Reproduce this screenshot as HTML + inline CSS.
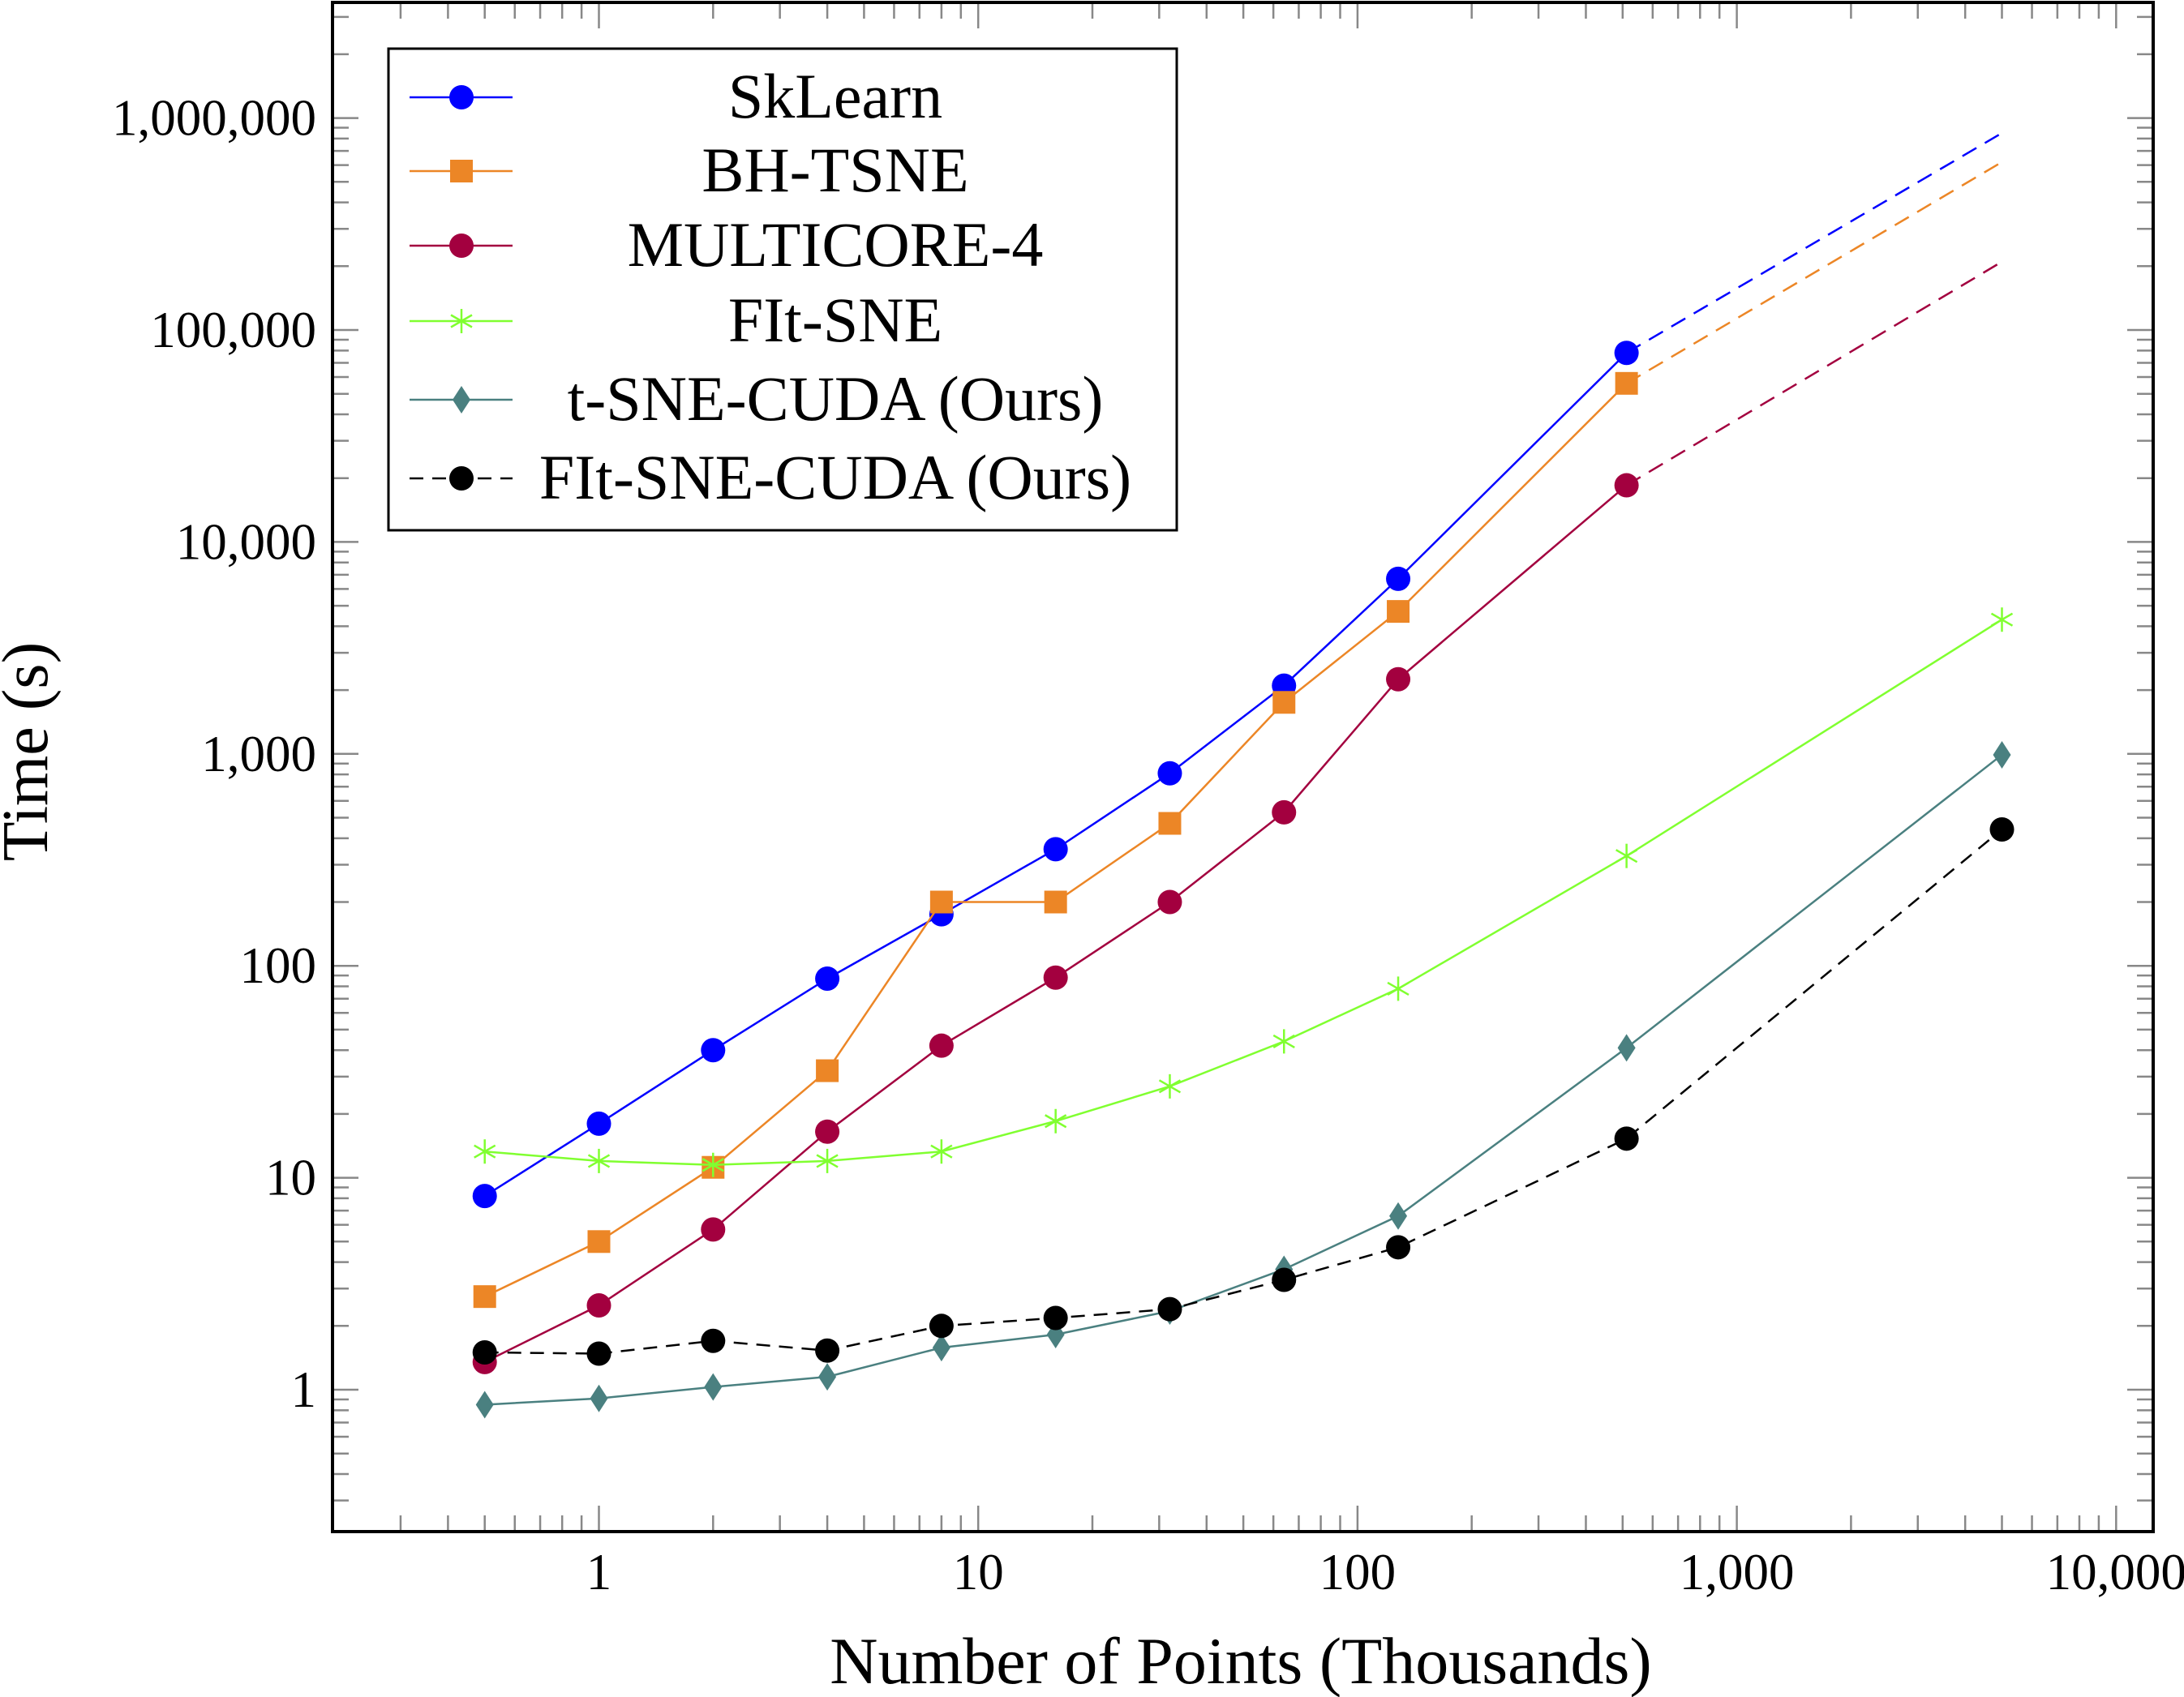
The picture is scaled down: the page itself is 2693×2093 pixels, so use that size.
<!DOCTYPE html>
<html><head><meta charset="utf-8"><style>
html,body{margin:0;padding:0;background:#fff;}
svg{display:block;font-family:"Liberation Serif",serif;}
</style></head><body>
<svg id="chart" width="2693" height="2093" viewBox="0 0 2693 2093" xmlns="http://www.w3.org/2000/svg"></svg>
<script>
const xPoints = [0.5, 1, 2, 4, 8, 16, 32, 64, 128, 512];
const xExt = 5000;
const sklearn = [8.2, 18, 40, 87, 175, 355, 810, 2100, 6700, 78000];
const sklearnExt = 850000;
const bhtsne = [2.75, 5, 11.2, 32, 200, 200, 470, 1750, 4700, 56000];
const bhtsneExt = 620000;
const multicore = [1.35, 2.5, 5.7, 16.5, 42, 88, 200, 530, 2250, 18500];
const multicoreExt = 210000;
const fitsne = [13.3, 12, 11.5, 12, 13.3, 18.5, 27, 44, 78, 330, 4300];
const tsnecuda = [0.85, 0.91, 1.03, 1.15, 1.58, 1.82, 2.35, 3.7, 6.6, 41, 990];
const fitsnecuda = [1.5, 1.48, 1.7, 1.53, 2.0, 2.18, 2.4, 3.3, 4.7, 15.3, 440];
const xTickValues = [1, 10, 100, 1000, 10000];
const xTickLabels = ["1", "10", "100", "1,000", "10,000"];
const yTickValues = [1, 10, 100, 1000, 10000, 100000, 1000000];
const yTickLabels = ["1", "10", "100", "1,000", "10,000", "100,000", "1,000,000"];
const legendLabels = ["SkLearn", "BH-TSNE", "MULTICORE-4", "FIt-SNE", "t-SNE-CUDA (Ours)", "FIt-SNE-CUDA (Ours)"];

const svg = document.getElementById('chart');
const NS = 'http://www.w3.org/2000/svg';
const L = 410, R = 2655, T = 3, B = 1889;
const X1 = 738.5, XD = 467.7, Y1 = 1714, YD = 261.4;
const sx = v => X1 + Math.log10(v) * XD;
const sy = v => Y1 - Math.log10(v) * YD;
function mk(tag, attrs, parent) {
  const e = document.createElementNS(NS, tag);
  for (const k in attrs) e.setAttribute(k, attrs[k]);
  (parent || svg).appendChild(e);
  return e;
}
const ticks = mk('g', {});


for (let d = -1; d <= 4; d++) {
  for (let m = 1; m <= 9; m++) {
    const v = m * Math.pow(10, d);
    const x = sx(v);
    if (x < L + 20 || x > R - 2) continue;
    const len = m === 1 ? 32 : 20;
    mk('line', {x1: x, y1: B, x2: x, y2: B - len, stroke: '#888', 'stroke-width': 2.5}, ticks);
    mk('line', {x1: x, y1: T, x2: x, y2: T + len, stroke: '#888', 'stroke-width': 2.5}, ticks);
  }
}
for (let d = -1; d <= 6; d++) {
  for (let m = 1; m <= 9; m++) {
    const v = m * Math.pow(10, d);
    const y = sy(v);
    if (y > B - 20 || y < T + 5) continue;
    const len = m === 1 ? 32 : 20;
    mk('line', {x1: L, y1: y, x2: L + len, y2: y, stroke: '#888', 'stroke-width': 2.5}, ticks);
    mk('line', {x1: R, y1: y, x2: R - len, y2: y, stroke: '#888', 'stroke-width': 2.5}, ticks);
  }
}
const frame = mk('rect', {x: L, y: T, width: R - L, height: B - T, fill: 'none', stroke: '#000', 'stroke-width': 4});


xTickValues.forEach((v, i) => {
  const t = mk('text', {x: sx(v), y: 1960, 'font-size': 63, 'text-anchor': 'middle'});
  
  
  t.textContent = xTickLabels[i];
});
yTickValues.forEach((v, i) => {
  const t = mk('text', {x: 390, y: sy(v) + 21, 'font-size': 63, 'text-anchor': 'end'});
  
  
  t.textContent = yTickLabels[i];
});
const xt = mk('text', {x: 1530, y: 2076, 'font-size': 82, 'text-anchor': 'middle'});


xt.textContent = 'Number of Points (Thousands)';
const yt = mk('text', {x: 0, y: 0, 'font-size': 80, 'text-anchor': 'middle', transform: 'translate(58,927) rotate(-90)'});


yt.textContent = 'Time (s)';

function marker(type, x, y, color, parent) {
  if (type === 'circle') return mk('circle', {cx: x, cy: y, r: 15, fill: color}, parent);
  if (type === 'square') return mk('rect', {x: x - 14, y: y - 14, width: 28, height: 28, fill: color}, parent);
  if (type === 'diamond') return mk('polygon', {points: `${x},${y-17} ${x+11},${y} ${x},${y+17} ${x-11},${y}`, fill: color}, parent);
  if (type === 'star') {
    const g = mk('g', {stroke: color, 'stroke-width': 2.5}, parent);
    for (let k = 0; k < 3; k++) {
      const a = Math.PI / 2 + k * Math.PI / 3;
      mk('line', {x1: x - 15 * Math.cos(a), y1: y - 15 * Math.sin(a), x2: x + 15 * Math.cos(a), y2: y + 15 * Math.sin(a)}, g);
    }
    return g;
  }
}
const series = [
  {name: 'sklearn', vals: sklearn, ext: sklearnExt, color: '#0000ff', m: 'circle'},
  {name: 'bh-tsne', vals: bhtsne, ext: bhtsneExt, color: '#ec8626', m: 'square'},
  {name: 'multicore-4', vals: multicore, ext: multicoreExt, color: '#a3003f', m: 'circle'},
  {name: 'fit-sne', vals: fitsne, color: '#80ff30', m: 'star'},
  {name: 'tsne-cuda', vals: tsnecuda, color: '#4a8080', m: 'diamond'},
  {name: 'fit-sne-cuda', vals: fitsnecuda, color: '#000000', m: 'circle', dash: true}
];
const xs = xPoints.concat([xExt]);
series.forEach(s => {
  const g = mk('g', {});
  
  
  const pts = s.vals.map((v, i) => sx(xs[i]) + ',' + sy(v)).join(' ');
  const pl = mk('polyline', {points: pts, fill: 'none', stroke: s.color, 'stroke-width': 2.5}, g);
  if (s.dash) pl.setAttribute('stroke-dasharray', '17 11');
  if (s.ext !== undefined) {
    const n = s.vals.length - 1;
    const ln = mk('line', {x1: sx(xs[n]), y1: sy(s.vals[n]), x2: sx(xExt), y2: sy(s.ext), stroke: s.color, 'stroke-width': 2.5, 'stroke-dasharray': '20 12'}, g);
    
    
  }
  s.vals.forEach((v, i) => {
    const mm = marker(s.m, sx(xs[i]), sy(v), s.color, g);
    
    
  });
});
const lg = mk('g', {});


mk('rect', {x: 479, y: 60, width: 972, height: 594, fill: '#fff', stroke: '#000', 'stroke-width': 3}, lg);
const ly = [120, 211, 303, 396, 493, 590];
series.forEach((s, i) => {
  const e = mk('g', {}, lg);
  
  
  const ln = mk('line', {x1: 505, y1: ly[i], x2: 632, y2: ly[i], stroke: s.color, 'stroke-width': 2.5}, e);
  if (s.dash) ln.setAttribute('stroke-dasharray', '17 11');
  marker(s.m, 569, ly[i], s.color, e);
  const t = mk('text', {x: 1030, y: ly[i] + 25, 'font-size': 78, 'text-anchor': 'middle'}, e);
  t.textContent = legendLabels[i];
});
</script>
</body></html>
